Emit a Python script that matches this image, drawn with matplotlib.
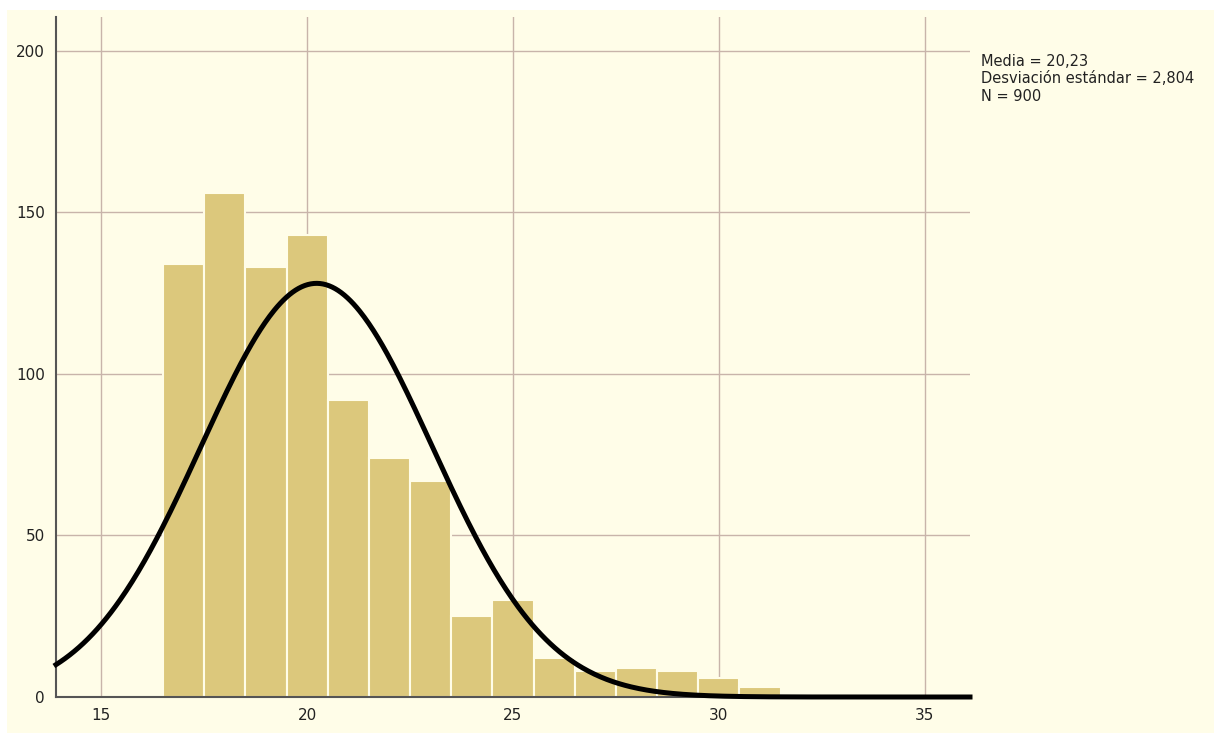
import numpy as np
import matplotlib
matplotlib.use("Agg")
import matplotlib.pyplot as plt
from matplotlib.patches import Rectangle

# Data
bin_centers = [17, 18, 19, 20, 21, 22, 23, 24, 25, 26, 27, 28, 29, 30, 31]
counts = [134, 156, 133, 143, 92, 74, 67, 25, 30, 12, 8, 9, 8, 6, 3]
bin_width = 1.0
mean_val = 20.23
sd_val = 2.804
n_val = 900
x_ticks = [15, 20, 25, 30, 35]
y_ticks = [0, 50, 100, 150, 200]
stats_lines = ["Media = 20,23", "Desviación estándar = 2,804", "N = 900"]

bg = "#FFFDE8"
bar_color = "#DCC87C"
grid_color = "#C8B4AA"

fig = plt.figure(figsize=(12.14, 7.35), dpi=100)
fig.patch.set_facecolor("white")
fig.patches.append(Rectangle((7 / 1214, 2 / 735), 1207 / 1214, 723 / 735,
                             transform=fig.transFigure, facecolor=bg,
                             edgecolor="none", zorder=-10))

ax = fig.add_axes([56 / 1214, 38 / 735, 914 / 1214, 680 / 735])
ax.set_facecolor(bg)
ax.set_xlim(13.9, 36.1)
ax.set_ylim(0, 210.5)

ax.set_xticks(x_ticks)
ax.set_yticks(y_ticks)
ax.grid(True, color=grid_color, linewidth=1.0, zorder=0)
ax.set_axisbelow(True)
ax.tick_params(length=0, labelsize=11, colors="#222222", pad=8)

ax.bar(bin_centers, counts, width=bin_width, color=bar_color,
       edgecolor=bg, linewidth=1.5, zorder=2)

xs = np.linspace(13.9, 36.1, 600)
ys = n_val * bin_width * np.exp(-0.5 * ((xs - mean_val) / sd_val) ** 2) / (sd_val * np.sqrt(2 * np.pi))
ax.plot(xs, ys, color="black", linewidth=3.6, zorder=3, clip_on=False)

for s in ["top", "right"]:
    ax.spines[s].set_visible(False)
ax.spines["left"].set_color("#555555")
ax.spines["bottom"].set_color("#555555")
ax.spines["left"].set_linewidth(1.5)
ax.spines["bottom"].set_linewidth(1.5)

fig.text(981 / 1214, 1 - 54 / 735, "\n".join(stats_lines), fontsize=10.5,
         va="top", ha="left", color="#222222", linespacing=1.2)

fig.savefig("out.png", dpi=100, facecolor=fig.get_facecolor())
